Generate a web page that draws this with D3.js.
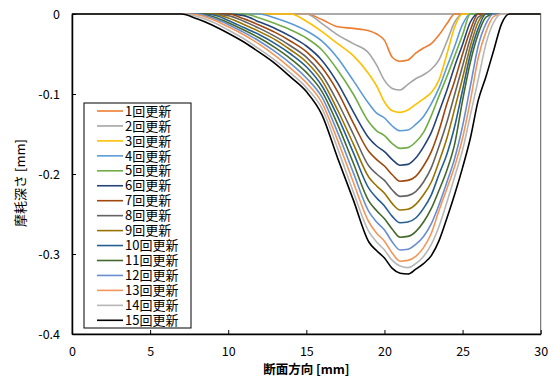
<!DOCTYPE html>
<html>
<head>
<meta charset="utf-8">
<script src="https://cdn.jsdelivr.net/npm/d3@7"></script>
<style>
  body { margin: 0; background: #fff; }
  svg { display: block; }
  text { font-family: "Noto Sans CJK JP", "Noto Sans", sans-serif; fill: #000; }
</style>
</head>
<body>
<div id="chart"></div>
<script>
// x positions (mm), shared by every series
const xs = [0, 6, 7, 8, 9, 10, 11, 12, 13, 14, 15, 16, 17, 18, 19, 19.5, 20, 20.5, 21, 21.5, 22, 22.5, 23, 23.5, 24, 24.5, 25, 25.5, 26, 26.5, 27, 27.5, 28, 29, 30]

// wear depth (mm) for each update
const s1 = [0,0,0,0,0,0,0,0,0,0,0,-0.007,-0.016,-0.018,-0.021,-0.025,-0.033,-0.054,-0.059,-0.0575,-0.049,-0.0425,-0.037,-0.026,-0.012,0,0,0,0,0,0,0,0,0,0]
const s2 = [0,0,0,0,0,0,0,0,0,0,0,-0.012,-0.026,-0.037,-0.049,-0.064,-0.083,-0.093,-0.095,-0.088,-0.081,-0.076,-0.069,-0.057,-0.034,-0.01,0,0,0,0,0,0,0,0,0]
const s3 = [0,0,0,0,0,0,0,0,0,0,-0.009,-0.022,-0.037,-0.052,-0.075,-0.09,-0.11,-0.121,-0.123,-0.12,-0.113,-0.106,-0.098,-0.082,-0.05,-0.016,0,0,0,0,0,0,0,0,0]
const s4 = [0,0,0,0,0,0,0,0,-0.005,-0.012,-0.021,-0.034,-0.055,-0.083,-0.112,-0.124,-0.13,-0.14,-0.146,-0.145,-0.138,-0.128,-0.112,-0.092,-0.066,-0.04,-0.013,0,0,0,0,0,0,0,0]
const s5 = [0,0,0,0,0,0,0,-0.005,-0.012,-0.02,-0.03,-0.045,-0.07,-0.1,-0.135,-0.146,-0.152,-0.162,-0.168,-0.167,-0.16,-0.148,-0.127,-0.102,-0.078,-0.052,-0.026,0,0,0,0,0,0,0,0]
const s6 = [0,0,0,0,0,0,-0.002,-0.01,-0.018,-0.028,-0.04,-0.058,-0.086,-0.122,-0.155,-0.165,-0.172,-0.182,-0.189,-0.188,-0.18,-0.166,-0.148,-0.122,-0.095,-0.065,-0.038,-0.01,0,0,0,0,0,0,0]
const s7 = [0,0,0,0,0,0,-0.006,-0.014,-0.023,-0.034,-0.047,-0.067,-0.097,-0.136,-0.172,-0.182,-0.19,-0.201,-0.209,-0.208,-0.203,-0.19,-0.172,-0.145,-0.112,-0.083,-0.05,-0.02,0,0,0,0,0,0,0]
const s8 = [0,0,0,0,0,-0.002,-0.009,-0.018,-0.028,-0.04,-0.054,-0.076,-0.11,-0.15,-0.19,-0.2,-0.208,-0.22,-0.228,-0.227,-0.222,-0.21,-0.192,-0.165,-0.135,-0.1,-0.065,-0.03,-0.004,0,0,0,0,0,0]
const s9 = [0,0,0,0,0,-0.005,-0.013,-0.022,-0.032,-0.045,-0.06,-0.083,-0.12,-0.162,-0.204,-0.215,-0.224,-0.237,-0.245,-0.244,-0.238,-0.226,-0.21,-0.184,-0.155,-0.118,-0.08,-0.04,-0.01,0,0,0,0,0,0]
const s10 = [0,0,0,0,-0.001,-0.008,-0.017,-0.026,-0.037,-0.05,-0.066,-0.09,-0.128,-0.173,-0.218,-0.23,-0.24,-0.253,-0.261,-0.26,-0.255,-0.243,-0.226,-0.2,-0.175,-0.14,-0.095,-0.05,-0.018,0,0,0,0,0,0]
const s11 = [0,0,0,0,-0.003,-0.011,-0.02,-0.03,-0.042,-0.056,-0.073,-0.097,-0.138,-0.186,-0.234,-0.246,-0.256,-0.269,-0.279,-0.278,-0.272,-0.26,-0.243,-0.22,-0.195,-0.162,-0.108,-0.06,-0.025,-0.004,0,0,0,0,0]
const s12 = [0,0,0,0,-0.005,-0.013,-0.023,-0.034,-0.047,-0.062,-0.08,-0.104,-0.148,-0.198,-0.247,-0.26,-0.27,-0.285,-0.295,-0.294,-0.288,-0.278,-0.262,-0.238,-0.21,-0.18,-0.14,-0.09,-0.04,-0.012,0,0,0,0,0]
const s13 = [0,0,0,-0.001,-0.007,-0.016,-0.026,-0.038,-0.052,-0.068,-0.086,-0.111,-0.158,-0.21,-0.26,-0.274,-0.284,-0.299,-0.309,-0.308,-0.303,-0.292,-0.274,-0.245,-0.218,-0.19,-0.155,-0.108,-0.055,-0.022,-0.003,0,0,0,0]
const s14 = [0,0,0,-0.003,-0.01,-0.02,-0.031,-0.044,-0.058,-0.074,-0.092,-0.118,-0.168,-0.222,-0.272,-0.285,-0.295,-0.308,-0.315,-0.317,-0.312,-0.303,-0.288,-0.265,-0.235,-0.203,-0.17,-0.126,-0.082,-0.037,-0.01,0,0,0,0]
const s15 = [0,0,0,-0.006,-0.014,-0.024,-0.035,-0.048,-0.062,-0.079,-0.097,-0.126,-0.18,-0.232,-0.285,-0.296,-0.305,-0.318,-0.324,-0.325,-0.319,-0.312,-0.302,-0.283,-0.255,-0.225,-0.192,-0.155,-0.108,-0.078,-0.045,-0.012,0,0,0]

const seriesNames = ['1回更新', '2回更新', '3回更新', '4回更新', '5回更新', '6回更新', '7回更新', '8回更新',
  '9回更新', '10回更新', '11回更新', '12回更新', '13回更新', '14回更新', '15回更新']
const seriesValues = [s1, s2, s3, s4, s5, s6, s7, s8, s9, s10, s11, s12, s13, s14, s15]
const colors = ['#ED7D31', '#A5A5A5', '#FFC000', '#5B9BD5', '#70AD47', '#264478', '#9E480E', '#636363',
  '#997300', '#255E91', '#43682B', '#698ED0', '#F1975A', '#B7B7B7', '#000000']

const xTicks = [0, 5, 10, 15, 20, 25, 30]
const yTicks = [0, -0.1, -0.2, -0.3, -0.4]

const width = 553
const height = 378
const margin = { top: 14, right: 12.3, bottom: 44, left: 72 }

const svg = d3.select('#chart')
  .append('svg')
  .attr('width', width)
  .attr('height', height)

const x = d3.scaleLinear().domain([0, 30]).range([margin.left, width - margin.right])
const y = d3.scaleLinear().domain([-0.4, 0]).range([height - margin.bottom, margin.top])

// plot area frame
svg.append('rect')
  .attr('x', x(0))
  .attr('y', y(0))
  .attr('width', x(30) - x(0))
  .attr('height', y(-0.4) - y(0))
  .attr('fill', 'none')
  .attr('stroke', '#595959')
  .attr('stroke-width', 1)

// curves
const line = d3.line()
  .x((d, i) => x(xs[i]))
  .y(d => y(d))
  .curve(d3.curveMonotoneX)

svg.append('g')
  .selectAll('path')
  .data(seriesValues)
  .join('path')
  .attr('d', d => line(d))
  .attr('fill', 'none')
  .attr('stroke', (d, i) => colors[i])
  .attr('stroke-width', 1.6)
  .attr('stroke-linejoin', 'round')

// axes
const xAxis = d3.axisBottom(x)
  .tickValues(xTicks)
  .tickFormat(d3.format('d'))
  .tickSizeInner(-4)
  .tickSizeOuter(0)
  .tickPadding(13)

const yAxis = d3.axisLeft(y)
  .tickValues(yTicks)
  .tickFormat(d => d === 0 ? '0' : d3.format('.1f')(d).replace('−', '-'))
  .tickSizeInner(-4)
  .tickSizeOuter(0)
  .tickPadding(12)

const gx = svg.append('g')
  .attr('transform', `translate(0,${y(-0.4)})`)
  .call(xAxis)
const gy = svg.append('g')
  .attr('transform', `translate(${x(0)},0)`)
  .call(yAxis)

for (const g of [gx, gy]) {
  g.select('.domain').attr('stroke', '#000').attr('stroke-width', 1.5)
  g.selectAll('.tick line').attr('stroke', '#000').attr('stroke-width', 1)
  g.selectAll('.tick text')
    .attr('font-size', 12.5)
    .attr('font-family', '"Noto Sans", sans-serif')
    .attr('fill', '#000')
}

// axis titles
svg.append('text')
  .attr('x', (x(0) + x(30)) / 2)
  .attr('y', 374)
  .attr('text-anchor', 'middle')
  .attr('font-size', 12.5)
  .attr('font-weight', 'bold')
  .text('断面方向 [mm]')

svg.append('text')
  .attr('transform', 'translate(25,183) rotate(-90)')
  .attr('text-anchor', 'middle')
  .attr('font-size', 13)
  .text('摩耗深さ [mm]')

// legend
const legend = svg.append('g')
  .attr('transform', 'translate(84,103)')

legend.append('rect')
  .attr('width', 107)
  .attr('height', 225)
  .attr('fill', '#fff')
  .attr('stroke', '#000')
  .attr('stroke-width', 1)

const rows = legend.selectAll('g.row')
  .data(seriesNames)
  .join('g')
  .attr('class', 'row')
  .attr('transform', (d, i) => `translate(0,${8 + i * 14.95})`)

rows.append('line')
  .attr('x1', 13)
  .attr('x2', 39)
  .attr('stroke', (d, i) => colors[i])
  .attr('stroke-width', 1.6)

rows.append('text')
  .attr('x', 41)
  .attr('dy', '0.36em')
  .attr('font-size', 13)
  .text(d => d)
</script>
</body>
</html>
